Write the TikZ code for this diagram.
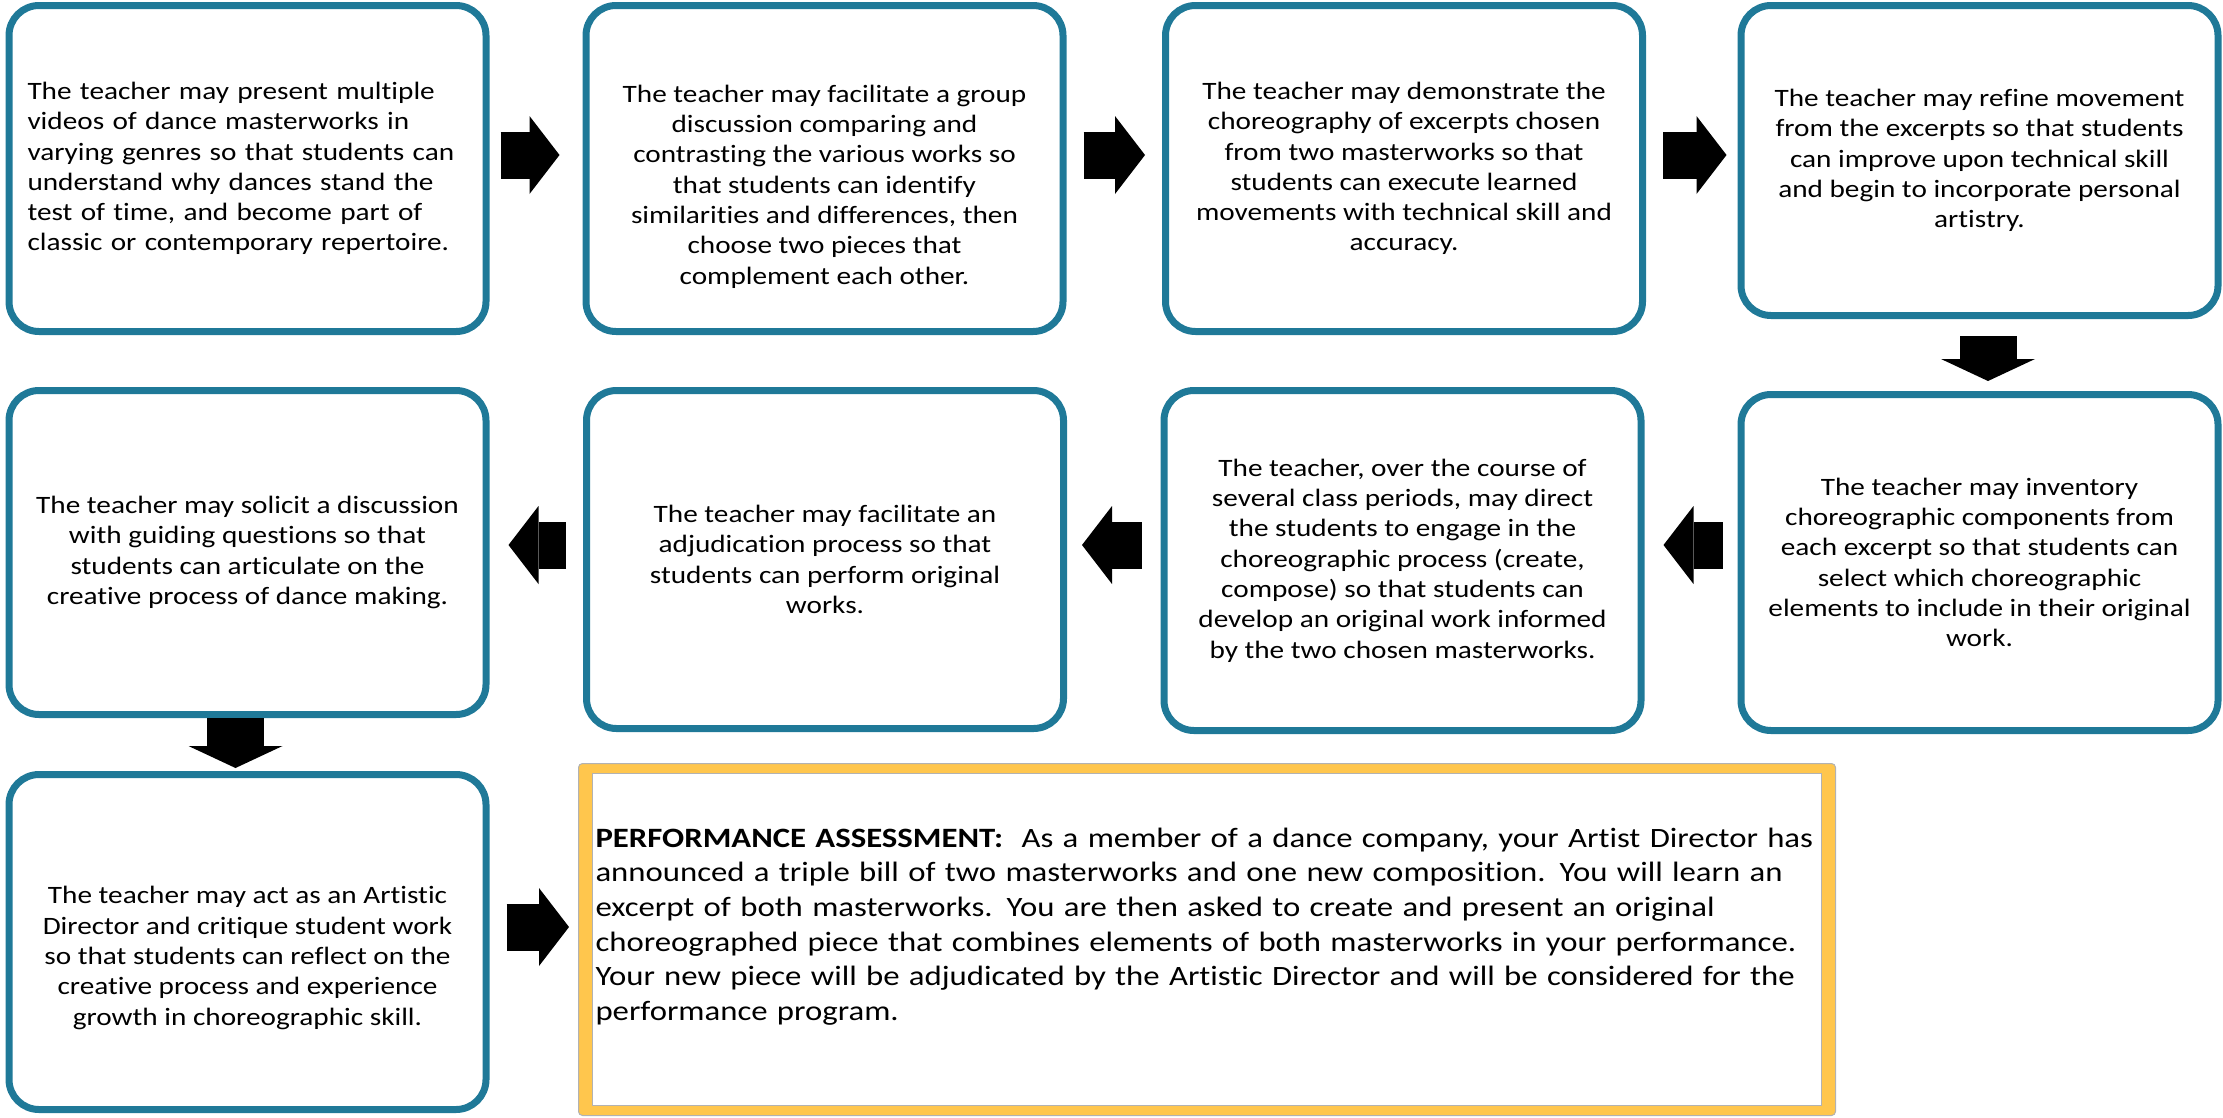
\documentclass[tikz,border=0pt]{standalone}
\usepackage{fontspec}
\setmainfont[FakeStretch=1.17, Ligatures=NoCommon]{Carlito}
\usetikzlibrary{arrows.meta}

\definecolor{boxteal}{RGB}{31,121,152}
\definecolor{assessgold}{RGB}{255,198,77}

\tikzset{
  steptext/.style={align=center, inner sep=0pt, font=\fontsize{25}{30.3}\selectfont},
  stepbox/.style={draw=boxteal, line width=7pt, rounded corners=30pt, fill=white,
    minimum width=477pt, steptext},
  rarrow/.style={line width=47pt, -{Triangle[length=30pt, width=78pt, line width=0pt]}},
  darrow/.style={line width=57pt, -{Triangle[length=22pt, width=94pt, line width=0pt]}},
}

\begin{document}
\begin{tikzpicture}[x=1pt, y=-1pt]
  \useasboundingbox (0,0) rectangle (2223,1117);

  % Row one
  \node[stepbox, minimum height=326pt, align=left, text width=440pt] (A) at (247.5,168.5)
    {The teacher may present multiple\\videos of dance masterworks in\\varying genres so that students can\\understand why dances stand the\\test of time, and become part of\\classic or contemporary repertoire.};
  \node[stepbox, minimum height=326pt] (B) at (824.5,168.5) {};
  \node[steptext] at ([yshift=-18pt]B.center)
    {The teacher may facilitate a group\\discussion comparing and\\contrasting the various works so\\that students can identify\\similarities and differences, then\\choose two pieces that\\complement each other.};
  \node[stepbox, minimum height=326pt] (C) at (1404,168.5)
    {The teacher may demonstrate the\\choreography of excerpts chosen\\from two masterworks so that\\students can execute learned\\movements with technical skill and\\accuracy.};
  \node[stepbox, minimum height=310pt] (D) at (1979.5,160.5)
    {The teacher may refine movement\\from the excerpts so that students\\can improve upon technical skill\\and begin to incorporate personal\\artistry.};

  % Row two
  \node[stepbox, minimum height=336pt] (E) at (1979.5,562.5)
    {The teacher may inventory\\choreographic components from\\each excerpt so that students can\\select which choreographic\\elements to include in their original\\work.};
  \node[stepbox, minimum height=340pt] (F) at (1402.5,560.5)
    {The teacher, over the course of\\several class periods, may direct\\the students to engage in the\\choreographic process (create,\\compose) so that students can\\develop an original work informed\\by the two chosen masterworks.};
  \node[stepbox, minimum height=338pt] (G) at (825,559.5)
    {The teacher may facilitate an\\adjudication process so that\\students can perform original\\works.};
  \node[stepbox, minimum height=324pt] (H) at (247.5,552.5)
    {The teacher may solicit a discussion\\with guiding questions so that\\students can articulate on the\\creative process of dance making.};

  % Row three
  \node[stepbox, minimum height=335pt] (I) at (247.5,942) {};
  \node[steptext] at ([yshift=-16pt]I.center)
    {The teacher may act as an Artistic\\Director and critique student work\\so that students can reflect on the\\creative process and experience\\growth in choreographic skill.};
  \node[draw=black!30, line width=1pt, fill=assessgold, rounded corners=4pt,
    minimum width=1257pt, minimum height=352pt] (P) at (1207,939.5) {};
  \node[draw=black!30, line width=1pt, fill=white, minimum width=1229pt,
    minimum height=332pt] (Pin) at (P.center) {};
  \node[text width=1240pt, inner sep=0pt, align=left,
    font=\fontsize{28}{34.7}\selectfont] at ([xshift=8.5pt, yshift=13pt]Pin.center)
    {\textbf{PERFORMANCE ASSESSMENT:}\ \ As a member of a dance company, your Artist Director has\\announced a triple bill of two masterworks and one new composition. You will learn an\\excerpt of both masterworks. You are then asked to create and present an original\\choreographed piece that combines elements of both masterworks in your performance.\\Your new piece will be adjudicated by the Artistic Director and will be considered for the\\performance program.};

  % Arrows
  \draw[rarrow, shorten <=11pt, shorten >=23pt] ([yshift=13.5pt]A.east) -- ([yshift=13.5pt]B.west);
  \draw[rarrow, shorten <=17pt, shorten >=17pt] ([yshift=13.5pt]B.east) -- ([yshift=13.5pt]C.west);
  \draw[rarrow, shorten <=17pt, shorten >=11pt] ([yshift=13.5pt]C.east) -- ([yshift=5.5pt]D.west);
  \draw[darrow, shorten <=17pt, shorten >=10pt] ([xshift=8.5pt]D.south) -- ([xshift=8.5pt]E.north);
  \draw[rarrow, shorten <=15pt, shorten >=19pt] ([yshift=17.5pt]E.west) -- ([yshift=15.5pt]F.east);
  \draw[rarrow, shorten <=19pt, shorten >=15pt] ([yshift=15.5pt]F.west) -- ([yshift=14.5pt]G.east);
  \draw[rarrow, shorten <=17pt, shorten >=19pt] ([yshift=14.5pt]G.west) -- ([yshift=7.5pt]H.east);
  \draw[darrow, shorten <=0pt, shorten >=3pt] ([xshift=-12pt]H.south) -- ([xshift=-12pt]I.north);
  \draw[rarrow, shorten <=17pt, shorten >=9pt] ([yshift=15pt]I.east) -- ([yshift=12.5pt]P.west);
\end{tikzpicture}
\end{document}
